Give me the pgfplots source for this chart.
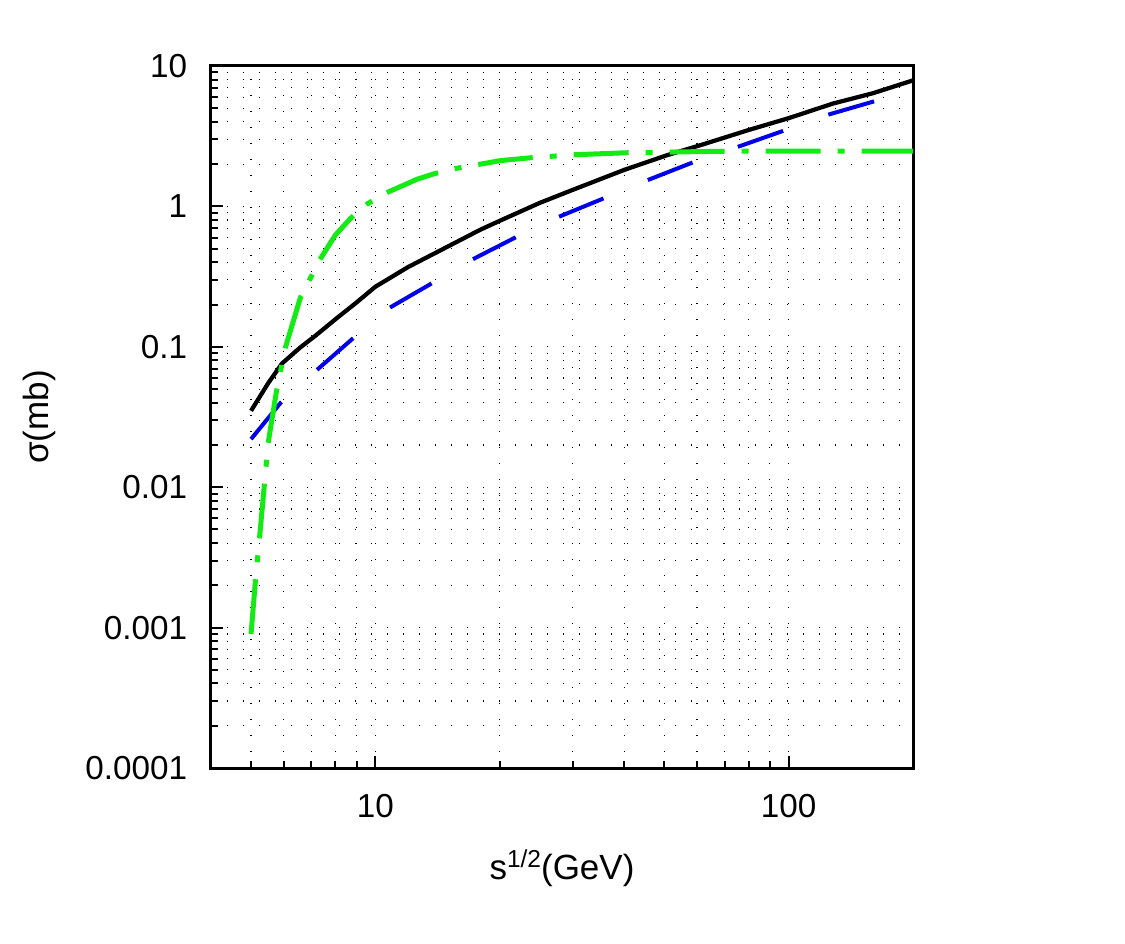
\documentclass[border=0pt]{standalone}
\usepackage{fontspec}
\setmainfont{Liberation Sans}
\usepackage{pgfplots}
\usepackage{pgfplotstable}
\pgfplotsset{compat=1.18}
\definecolor{mygreen}{RGB}{20,235,20}
\definecolor{myblue}{RGB}{0,0,235}
\pgfplotstableread{
x y
5.0 0.035
5.5 0.055
5.94 0.076
6.58 0.099
7.16 0.120
8 0.157
9 0.207
10 0.268
12 0.37
15.2 0.53
17.9 0.68
20 0.79
25 1.06
30 1.31
40 1.82
50.9 2.32
61.2 2.73
80 3.5
100 4.25
128 5.4
160 6.4
200 7.9
}\blackdata
\pgfplotstableread{
x y
5.0 0.022
5.9 0.040
7.2 0.068
8.8 0.114
10.8 0.189
13.6 0.28
17.2 0.42
21.8 0.60
27.7 0.84
35.4 1.13
45.6 1.54
58.2 2.04
75.2 2.65
96.7 3.44
124 4.48
161 5.6
}\bluedata
\pgfplotstableread{
x y
5.0 0.0009
5.12 0.0021
5.24 0.0043
5.38 0.0101
5.50 0.0206
5.76 0.048
6.05 0.098
6.58 0.223
7.33 0.415
8.0 0.625
8.7 0.82
9.55 1.04
10.57 1.24
12.6 1.56
13.8 1.70
15.6 1.86
20.1 2.12
23.7 2.22
30 2.33
40.4 2.41
69 2.47
100 2.48
200 2.48
}\greendata
\begin{document}
\begin{tikzpicture}
\useasboundingbox (-84.4pt,-70.4pt) rectangle (365.6pt,307.2pt);
\begin{axis}[
  at={(0pt,0pt)}, anchor=south west,
  width=280.8pt, height=280.8pt, scale only axis,
  xmode=log, ymode=log,
  xmin=4, xmax=200, ymin=1e-4, ymax=10,
  xtick={10,100}, xticklabels={10,100},
  minor xtick={5,6,7,8,9,20,30,40,50,60,70,80,90,200},
  ytick={1e-4,1e-3,1e-2,1e-1,1,10},
  yticklabels={0.0001,0.001,0.01,0.1,1,10},
  minor ytick={2e-4,3e-4,4e-4,5e-4,6e-4,7e-4,8e-4,9e-4,
    0.002,0.003,0.004,0.005,0.006,0.007,0.008,0.009,
    0.02,0.03,0.04,0.05,0.06,0.07,0.08,0.09,
    0.2,0.3,0.4,0.5,0.6,0.7,0.8,0.9,
    2,3,4,5,6,7,8,9},
  tick align=inside, tick pos=left,
  major tick length=4.8pt, minor tick length=3pt,
  tick style={black, line width=0.8pt},
  axis line style={line width=1.2pt},
  grid=both,
  major grid style={black, line width=0.45pt, dash pattern=on 0.45pt off 5.95pt},
  minor grid style={black, line width=0.45pt, dash pattern=on 0.45pt off 5.95pt},
  ticklabel style={font=\fontsize{13.3}{15}\selectfont},
  xticklabel style={yshift=-7pt},
  yticklabel style={xshift=-6pt},
  xlabel={s\raisebox{5pt}{\fontsize{9.8}{10}\selectfont 1/2}(GeV)},
  xlabel style={font=\fontsize{14}{16}\selectfont, at={(axis description cs:0.5,-0.1595)}, anchor=base},
  ylabel={σ(mb)},
  ylabel style={font=\fontsize{14}{16}\selectfont, at={(axis description cs:-0.245,0.5)}, anchor=center, rotate=0},
]
\addplot[black, line width=1.7pt, line join=round, no marks] table[x=x,y=y] {\blackdata};
\addplot[myblue, line width=1.6pt, dash pattern=on 19.2pt off 19.2pt, no marks] table[x=x,y=y] {\bluedata};
\addplot[mygreen, line width=2pt, dash pattern=on 22pt off 6.8pt on 2.8pt off 6.8pt, no marks] table[x=x,y=y] {\greendata};
\end{axis}
\end{tikzpicture}
\end{document}
